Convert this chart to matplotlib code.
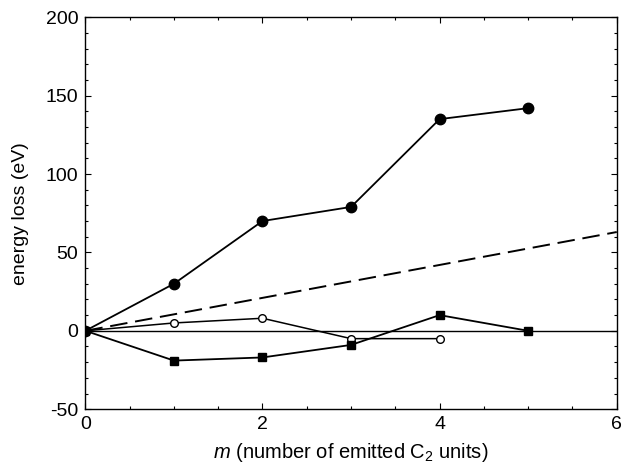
import numpy as np
import matplotlib
matplotlib.use("Agg")
import matplotlib.pyplot as plt
from matplotlib.ticker import MultipleLocator

plt.rcParams['font.family'] = ['Liberation Sans', 'DejaVu Sans']
plt.rcParams['mathtext.fontset'] = 'custom'
plt.rcParams['mathtext.rm'] = 'Liberation Sans'
plt.rcParams['mathtext.it'] = 'Liberation Sans:italic'
plt.rcParams['axes.unicode_minus'] = False

# Energy loss versus number of emitted C2 units
m_filled = [0, 1, 2, 3, 4, 5]
loss_filled = [0, 30, 70, 79, 135, 142]

m_open = [0, 1, 2, 3, 4]
loss_open = [0, 5, 8, -5, -5]

m_square = [0, 1, 2, 3, 4, 5]
loss_square = [0, -19, -17, -9, 10, 0]

m_ref = [0, 6]
loss_ref = [0, 63]

fig = plt.figure(figsize=(6.23, 4.65), dpi=100)
ax = fig.add_axes([0.137, 0.12, 0.853, 0.843])

ax.axhline(0, color='black', lw=1.0, zorder=1)
ax.plot(m_ref, loss_ref, color='black', lw=1.4, ls=(0, (9, 4)))
ax.plot(m_filled, loss_filled, color='black', lw=1.3, marker='o', ms=7.5,
        mfc='black', mec='black')
ax.plot(m_open, loss_open, color='black', lw=1.1, marker='o', ms=5.5,
        mfc='white', mec='black', mew=1.0)
ax.plot(m_square, loss_square, color='black', lw=1.3, marker='s', ms=6,
        mfc='black', mec='black')

ax.set_xlim(0, 6)
ax.set_ylim(-50, 200)
ax.xaxis.set_major_locator(MultipleLocator(2))
ax.xaxis.set_minor_locator(MultipleLocator(0.5))
ax.yaxis.set_major_locator(MultipleLocator(50))
ax.yaxis.set_minor_locator(MultipleLocator(10))
ax.tick_params(which='both', direction='in', top=True, right=True,
               labelsize=14, width=0.8)
ax.tick_params(which='major', length=4, pad=5)
ax.tick_params(which='minor', length=2.5)
for s in ax.spines.values():
    s.set_linewidth(1.0)

ax.set_xlabel(r'$m$ (number of emitted C$_2$ units)', fontsize=14.5, labelpad=6)
ax.set_ylabel('energy loss (eV)', fontsize=14, labelpad=12)

fig.savefig('out.png', dpi=100)
